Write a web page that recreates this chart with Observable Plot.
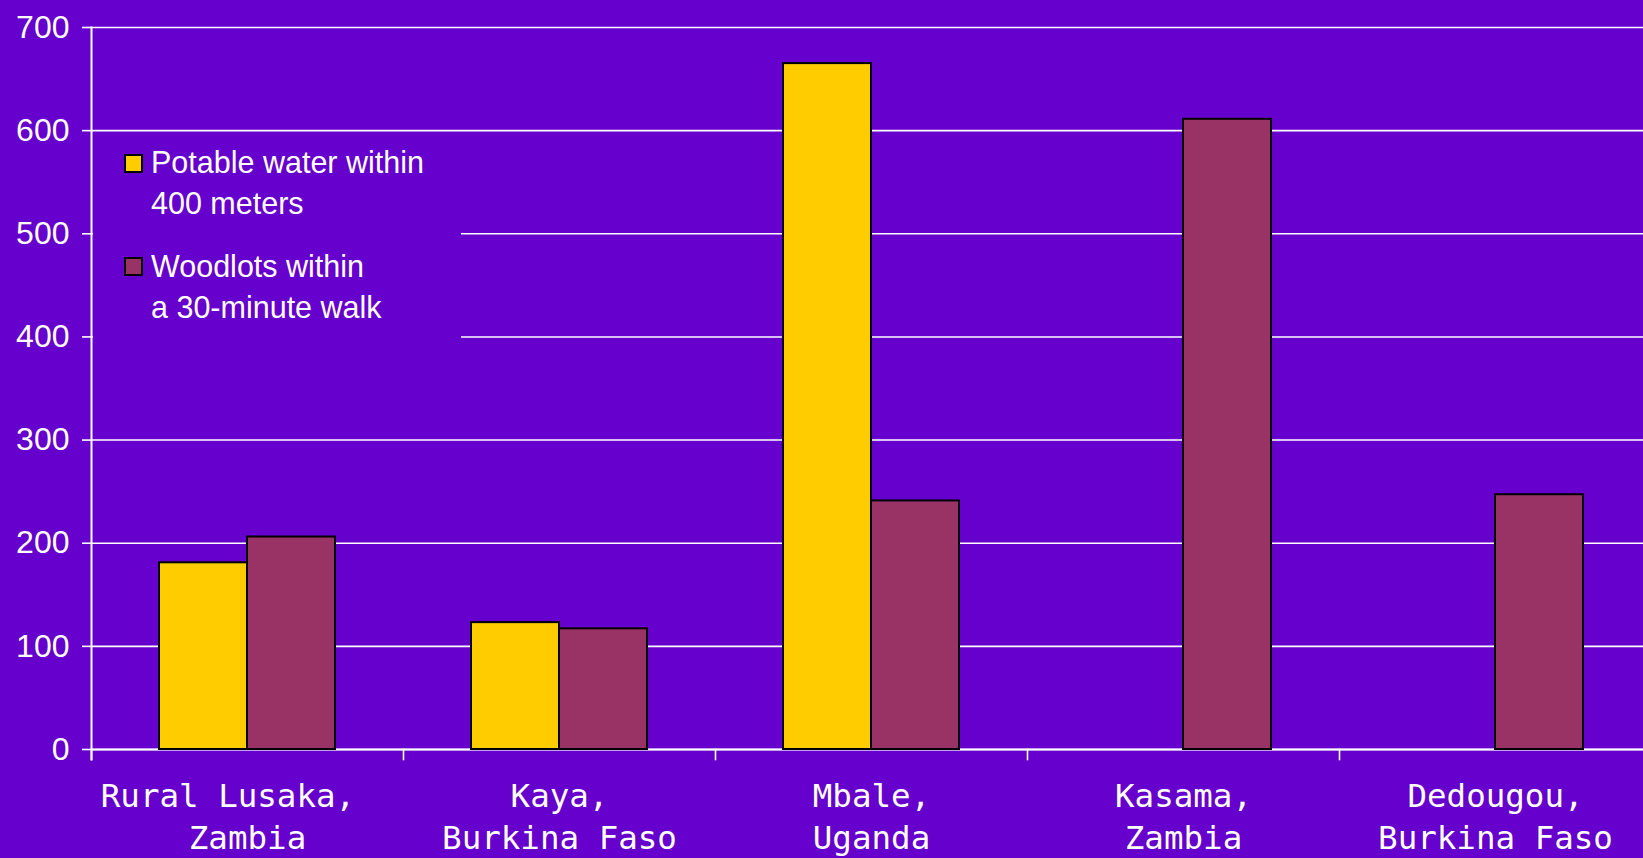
<!DOCTYPE html>
<html><head><meta charset="utf-8">
<script src="https://cdn.jsdelivr.net/npm/d3@7"></script>
<script src="https://cdn.jsdelivr.net/npm/@observablehq/plot@0.6"></script>
<style>
html,body{margin:0;padding:0;background:#6600CC;overflow:hidden;}
#wrap{position:relative;width:1652px;height:858px;}
#legend{position:absolute;left:93px;top:138px;width:368px;height:285px;background:#6600CC;font-family:"Liberation Sans",Arial,sans-serif;font-size:30.5px;line-height:41px;color:white;}
.sw{position:absolute;width:15px;height:15px;border:2px solid black;}
.lt{position:absolute;white-space:nowrap;}
</style></head><body>
<div id="wrap"><div id="chart"></div><div id="legend"></div></div>
<script>
const categoryLabels = ["Rural Lusaka,\u00a0\u00a0\nZambia", "Kaya,\nBurkina Faso", "Mbale,\nUganda", "Kasama,\nZambia", "Dedougou,\nBurkina Faso"];
const seriesNames = ["Potable water within 400 meters", "Woodlots within a 30-minute walk"];
const legendLines = [["Potable water within", "400 meters"], ["Woodlots within", "a 30-minute walk"]];
const waterValues = [181, 123, 665, null, null];
const woodlotValues = [206, 117, 241, 611, 247];
const yTicks = [0, 100, 200, 300, 400, 500, 600, 700];
const seriesColors = ["#FFCC00", "#993366"];

const rows = categoryLabels.flatMap((c, i) => [
  {cat: c, series: seriesNames[0], value: waterValues[i]},
  {cat: c, series: seriesNames[1], value: woodlotValues[i]}
]).filter(d => d.value != null);

const chart = Plot.plot({
  width: 1652, height: 858,
  marginTop: 27, marginLeft: 89, marginRight: 0, marginBottom: 109,
  style: {background: "#6600CC", color: "white"},
  fx: {domain: categoryLabels, padding: 0, axis: null, label: null},
  x: {domain: seriesNames, paddingInner: 0, paddingOuter: 0.756, axis: null},
  y: {domain: [0, 700], axis: null},
  color: {domain: seriesNames, range: seriesColors},
  marks: [
    Plot.gridY(yTicks, {stroke: "white", strokeOpacity: 1, strokeWidth: 1.6}),
    Plot.ruleY([0], {stroke: "white", strokeWidth: 2}),
    Plot.barY(rows, {fx: "cat", x: "series", y: "value", fill: "series", stroke: "black", strokeWidth: 2}),
    Plot.axisY(yTicks, {tickSize: 9, tickPadding: 13, fontSize: 32, fontFamily: "Liberation Sans", label: null, strokeWidth: 1.6}),
    Plot.axisFx({anchor: "bottom", tickSize: 0, tickPadding: 28, fontSize: 32.5, fontFamily: "DejaVu Sans Mono", lineHeight: 1.28, label: null}),
    Plot.frame({anchor: "left", facetAnchor: "left", insetBottom: -10, stroke: "white", strokeWidth: 2}),
    Plot.frame({anchor: "left", insetTop: 722, insetBottom: -10, stroke: "white", strokeWidth: 1.6})
  ]
});
document.getElementById("chart").appendChild(chart);

const legend = document.getElementById("legend");
const itemTops = [4.3, 107.7];
legendLines.forEach((lines, i) => {
  const sw = document.createElement("div");
  sw.className = "sw";
  sw.style.left = "31px";
  sw.style.top = (itemTops[i] + 11.7) + "px";
  sw.style.background = seriesColors[i];
  legend.appendChild(sw);
  const t = document.createElement("div");
  t.className = "lt";
  t.style.left = "58px";
  t.style.top = itemTops[i] + "px";
  t.innerHTML = lines.join("<br>");
  legend.appendChild(t);
});
</script>
</body></html>
